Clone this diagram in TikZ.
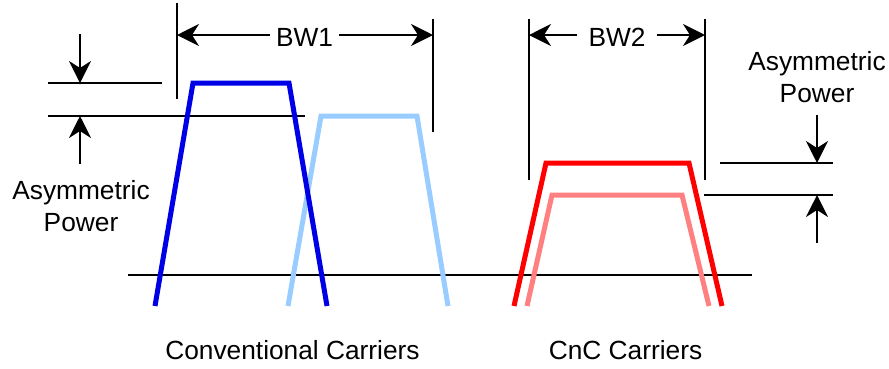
\documentclass[tikz,border=0pt]{standalone}
\usepackage{fontspec}
\setmainfont{Liberation Sans}
\usetikzlibrary{arrows.meta}
\definecolor{cblue}{RGB}{0,0,230}
\definecolor{clblue}{RGB}{153,204,255}
\definecolor{cred}{RGB}{255,0,0}
\definecolor{clred}{RGB}{255,128,128}
\begin{document}
\begin{tikzpicture}[x=1pt,y=-1pt,
  carrier/.style={line width=5pt, line join=miter},
  guide/.style={line width=1.8pt},
  dim/.style={line width=1.8pt, -{Stealth[length=22pt,width=22pt,inset=7pt]}},
  lbl/.style={font=\fontsize{26.3}{31.5}\selectfont, inner sep=0pt, anchor=base, align=center}]
\useasboundingbox (0,0) rectangle (889,368);

% baseline
\draw[line width=1.5pt] (128,275) -- (752,275);

% BW1 guides
\draw[guide] (177,3) -- (177,99);
\draw[guide] (433,19) -- (433,132);
% BW2 guides
\draw[guide] (529,19) -- (529,180);
\draw[guide] (705,19) -- (705,180);

% left asymmetric guides
\draw[guide] (48,83) -- (162,83);
\draw[guide] (48,116) -- (305,116);
% right asymmetric guides
\draw[guide] (720,163) -- (833,163);
\draw[guide] (704,195) -- (833,195);

% carriers
\draw[carrier, clblue] (288,306) -- (321,116) -- (417,116) -- (448,306);
\draw[carrier, cblue] (155,306) -- (193,83) -- (289,83) -- (327,306);
\draw[carrier, clred] (527,306) -- (552,195) -- (682,195) -- (709,306);
\draw[carrier, cred] (514,306) -- (546,163) -- (689,163) -- (722,306);

% BW labels and arrows
\node[lbl, inner xsep=6pt] (bw1) at (304.5,46) {BW1};
\coordinate (bw1l) at (177,35);
\coordinate (bw1r) at (433,35);
\draw[dim] (bw1l -| bw1.west) -- (bw1l);
\draw[dim] (bw1r -| bw1.east) -- (bw1r);

\node[lbl, inner xsep=11pt] (bw2) at (617,46) {BW2};
\coordinate (bw2l) at (529,35);
\coordinate (bw2r) at (705,35);
\draw[dim] (bw2l -| bw2.west) -- (bw2l);
\draw[dim] (bw2r -| bw2.east) -- (bw2r);

% asymmetric power arrows
\coordinate (a1s) at (80,34);  \coordinate (a1e) at (80,83);
\coordinate (a2s) at (80,164); \coordinate (a2e) at (80,116);
\draw[dim] (a1s) -- (a1e);
\draw[dim] (a2s) -- (a2e);
\coordinate (a3s) at (817,115); \coordinate (a3e) at (817,163);
\coordinate (a4s) at (817,243); \coordinate (a4e) at (817,195);
\draw[dim] (a3s) -- (a3e);
\draw[dim] (a4s) -- (a4e);

% texts
\node[lbl] (apl) at (81,231) {Asymmetric\\Power};
\node[lbl] (apr) at (817,102) {Asymmetric\\Power};
\node[lbl] (conv) at (292.5,359) {Conventional Carriers};
\node[lbl] (cnc) at (625.5,359) {CnC Carriers};
\end{tikzpicture}
\end{document}
